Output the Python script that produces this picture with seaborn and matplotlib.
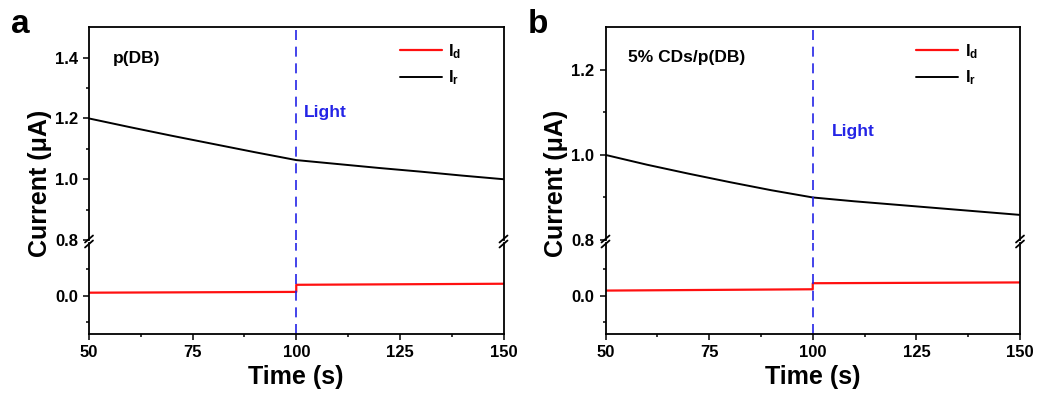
import matplotlib
matplotlib.use("Agg")
import matplotlib.pyplot as plt
import seaborn as sns
import numpy as np
import pandas as pd

# data
time_r = [50, 60, 70, 80, 90, 100, 110, 120, 130, 140, 150]
ir_pdb = [1.200, 1.171, 1.143, 1.116, 1.089, 1.063, 1.050, 1.037, 1.025, 1.012, 1.000]
ir_cds = [1.000, 0.977, 0.956, 0.936, 0.917, 0.900, 0.891, 0.883, 0.875, 0.867, 0.859]

time_d = [50, 100, 100, 150]
id_pdb = [0.011, 0.014, 0.041, 0.045]
id_cds = [0.019, 0.024, 0.047, 0.050]

panels = [
    dict(letter='a', name='p(DB)', ir=ir_pdb, id=id_pdb, ylim=(0.8, 1.5),
         major=[0.8, 1.0, 1.2, 1.4], minor=[0.9, 1.1, 1.3],
         name_xy=(55.8, 1.396), light_xy=(101.9, 1.219)),
    dict(letter='b', name='5% CDs/p(DB)', ir=ir_cds, id=id_cds, ylim=(0.8, 1.3),
         major=[0.8, 1.0, 1.2], minor=[0.9, 1.1],
         name_xy=(55.5, 1.228), light_xy=(104.6, 1.054)),
]

sns.set_style("ticks")
plt.rcParams['font.family'] = ['Liberation Sans', 'DejaVu Sans']
plt.rcParams['font.weight'] = 'bold'
for k in ('text.color', 'axes.labelcolor', 'xtick.color', 'ytick.color', 'axes.edgecolor'):
    plt.rcParams[k] = 'black'
plt.rcParams['mathtext.fontset'] = 'custom'
plt.rcParams['mathtext.rm'] = 'Liberation Sans:bold'
plt.rcParams['mathtext.bf'] = 'Liberation Sans:bold'
plt.rcParams['mathtext.it'] = 'Liberation Sans:bold'
plt.rcParams['mathtext.default'] = 'bf'

W, H = 1038, 396
fig = plt.figure(figsize=(W / 100, H / 100), dpi=100)

lefts = [89, 605.5]
width = 414.5
top_px, brk_px, gap_px, bot_px = 27.3, 240, 3, 333.7
blue = '#2424e6'
tick_kw = dict(direction='out', width=1.1, colors='black', labelsize=12, pad=4)

for p, lx in zip(panels, lefts):
    x0 = lx / W
    w = width / W
    ax_up = fig.add_axes([x0, 1 - brk_px / H, w, (brk_px - top_px) / H])
    ax_lo = fig.add_axes([x0, 1 - bot_px / H, w, (bot_px - brk_px - gap_px) / H])

    sns.lineplot(x=time_r, y=p['ir'], ax=ax_up, color='black', lw=1.4,
                 estimator=None, sort=False)
    sns.lineplot(x=time_d, y=p['id'], ax=ax_lo, color='#ff1010', lw=1.6,
                 estimator=None, sort=False)

    for ax in (ax_up, ax_lo):
        ax.set_xlim(50, 150)
        ax.axvline(100, color=blue, lw=1.2, ls=(0, (6, 4)))
        for s in ax.spines.values():
            s.set_linewidth(1.3)
        ax.tick_params(which='major', length=4, **tick_kw)
        ax.tick_params(which='minor', length=2.5, direction='out', width=1.1)
        ax.set_ylabel('')

    ax_up.set_ylim(*p['ylim'])
    ax_up.set_yticks(p['major'])
    ax_up.set_yticks(p['minor'], minor=True)
    ax_up.set_yticklabels([f'{v:.1f}' for v in p['major']])
    ax_up.spines['bottom'].set_visible(False)
    ax_up.tick_params(axis='x', which='both', bottom=False, labelbottom=False)

    ax_lo.set_ylim(-0.145, 0.2)
    ax_lo.set_yticks([0.0])
    ax_lo.set_yticks([-0.1, 0.1], minor=True)
    ax_lo.set_yticklabels(['0.0'])
    ax_lo.spines['top'].set_visible(False)
    ax_lo.set_xticks([50, 75, 100, 125, 150])
    ax_lo.set_xticks([62.5, 87.5, 112.5, 137.5], minor=True)
    ax_lo.set_xlabel('Time (s)', fontsize=18, fontweight='bold', labelpad=4)

    # axis break marks
    for xa in (0, 1):
        for dy in (-2.5, 2.5):
            yb = 1 - (brk_px + gap_px / 2 + dy) / H
            xb = (lx + xa * width) / W
            fig.add_artist(plt.Line2D([xb - 4 / W, xb + 4 / W],
                                      [yb - 3.5 / H, yb + 3.5 / H],
                                      color='black', lw=1.3))

    ax_up.text(*p['name_xy'], p['name'], fontsize=12.5, fontweight='bold',
               va='center', ha='left')
    ax_up.text(*p['light_xy'], 'Light', fontsize=12.5, fontweight='bold',
               color=blue, va='center', ha='left')

    h_d = ax_lo.get_lines()[0]
    h_r = ax_up.get_lines()[0]
    ax_up.legend([h_d, h_r], ['I$_d$', 'I$_r$'], loc='upper left',
                 bbox_to_anchor=(0.75, 0.93), frameon=False, fontsize=12,
                 handlelength=2.5, handletextpad=0.4, labelspacing=0.45,
                 borderpad=0, borderaxespad=0)

    fig.text((lx - 49) / W, 1 - 183 / H, 'Current (μA)', rotation=90,
             fontsize=18, fontweight='bold', ha='center', va='center')
    fig.text((lx - 78) / W, 1 - 9 / H, p['letter'], fontsize=24,
             fontweight='bold', ha='left', va='top')

fig.savefig('out.png', dpi=100)
